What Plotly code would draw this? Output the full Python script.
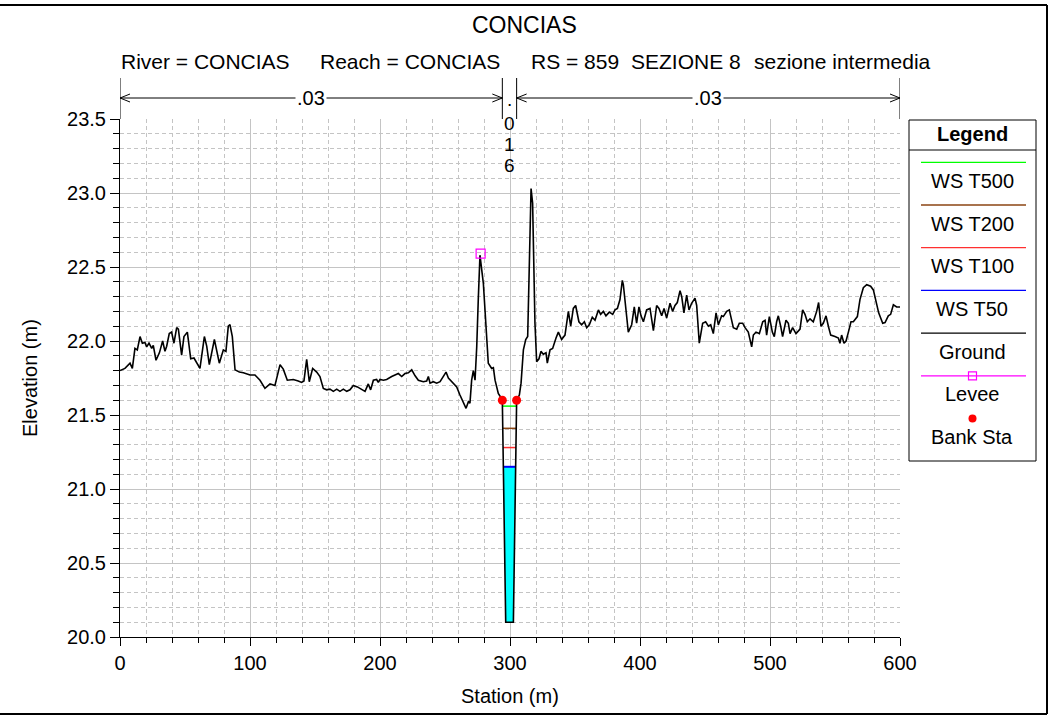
import numpy as np
import plotly.graph_objects as go

# ---------------- data ----------------
station = [0, 3.8, 7.7, 9.5, 11.5, 13.3, 15.4, 17.2, 19.2, 20.5, 22.3, 24.4, 25.6, 27.7, 30.3,
           32.8, 34.6, 35.9, 37.9, 39.7, 41.5, 43.6, 44.9, 47.4, 49.2, 51.8, 54.4, 56.9, 61.5,
           64.9, 66.7, 68.7, 72.6, 76.4, 79.5, 81.5, 83.3, 84.6, 86.4, 88.5, 91.8, 94.9, 100,
           103.8, 107.7, 111.5, 115.4, 119.2, 123.1, 125.6, 128.7, 133.3, 137.1, 139.7, 141.5,
           143.6, 145.6, 148.2, 151.3, 153.8, 156.4, 159, 161.5, 164.1, 166.7, 169.2, 171.8,
           174.4, 176.9, 179.5, 182.6, 185.9, 188.5, 191, 192.8, 194.9, 197.4, 198.7, 200,
           202.6, 205.1, 209, 211.5, 214.1, 216.7, 219.2, 221.8, 224.4, 227, 229.5, 233.3,
           235.9, 237.2, 238.5, 241, 243.6, 246.2, 248.7, 250.8, 252.6, 255.1, 259, 261.5,
           264.1, 266.2, 268, 269.2, 270.5, 271.8, 273.1, 274.4, 275.6, 276.9, 279.5, 281.5,
           283.3, 285.9, 287.2, 288.5, 291, 293.6, 294.1, 296.7, 302.6, 305.1, 307.2, 308.5,
           310.3, 312.1, 313.6, 316.2, 317.4, 319.2, 320.5, 322.3, 323.8, 325.6, 327.7, 328.7,
           330.8, 332.8, 334.6, 335.4, 337.2, 339.7, 342.3, 344.9, 346.7, 348.7, 350.5, 353,
           355.1, 357.2, 359, 361, 363.3, 365.4, 368, 369.7, 371.8, 373.8, 376.4, 379, 380.8,
           382.6, 384.6, 386.4, 387.2, 389.2, 391, 393.6, 395.6, 397.4, 399.2, 400.8, 402.6,
           405.1, 407.7, 410.3, 412.8, 414.6, 416.7, 418.5, 420.5, 423.1, 425.1, 426.9, 428.7,
           430.8, 432.1, 433.8, 435.9, 437.7, 439.7, 442.3, 443.6, 445.6, 448.2, 450.5, 452.6,
           454.4, 456.4, 458.5, 460.3, 462.8, 464.1, 466.7, 468.7, 471.8, 474.4, 476.4, 479,
           480.8, 483.3, 485.9, 487.2, 489.2, 491.8, 494.4, 496.2, 497.4, 499.5, 501.8, 503.3,
           505.1, 506.4, 508.2, 509.7, 512.3, 514.1, 515.4, 517.4, 520, 523.1, 525.1, 526.9,
           528.7, 530.8, 533.3, 535.9, 537.4, 539.2, 541, 543.1, 544.9, 546.7, 550, 552.6,
           553.8, 555.1, 556.9, 558.5, 560.3, 562.3, 564.1, 567.2, 569.2, 571.8, 574.4, 577.4,
           579.5, 581.6, 583.6, 586.7, 588.5, 591, 592.8, 594.9, 596.2, 597.4, 600]
elevation = [21.80, 21.815, 21.85, 21.815, 21.95, 21.94, 22.03, 21.985, 21.99, 21.96, 21.985,
             21.95, 21.97, 21.87, 21.92, 22.0, 21.93, 21.965, 22.05, 22.06, 21.985, 22.09, 22.08,
             21.905, 22.03, 22.06, 21.88, 21.885, 21.815, 22.03, 21.965, 21.84, 22.01, 21.85,
             21.94, 21.93, 22.10, 22.11, 22.03, 21.805, 21.79, 21.785, 21.77, 21.77, 21.735,
             21.68, 21.71, 21.70, 21.84, 21.81, 21.735, 21.74, 21.73, 21.72, 21.73, 21.876,
             21.725, 21.815, 21.79, 21.76, 21.68, 21.67, 21.675, 21.66, 21.675, 21.66, 21.675,
             21.66, 21.67, 21.70, 21.69, 21.675, 21.66, 21.71, 21.67, 21.735, 21.74, 21.72,
             21.74, 21.735, 21.74, 21.76, 21.77, 21.78, 21.76, 21.78, 21.785, 21.805, 21.765,
             21.735, 21.725, 21.73, 21.76, 21.715, 21.725, 21.715, 21.725, 21.76, 21.79, 21.75,
             21.725, 21.69, 21.635, 21.58, 21.545, 21.59, 21.58, 21.735, 21.80, 21.735, 21.96,
             22.28, 22.58, 22.39, 22.12, 21.85, 21.815, 21.82, 21.735, 21.645, 21.61, 21.60,
             20.10, 20.10, 21.60, 21.635, 21.715, 21.94, 22.01, 22.03, 23.03, 22.93, 22.12,
             21.86, 21.88, 21.93, 21.91, 21.92, 21.85, 21.94, 21.95, 22.01, 22.02, 22.06, 22.01,
             22.04, 22.20, 22.10, 22.22, 22.24, 22.13, 22.11, 22.13, 22.09, 22.11, 22.16, 22.14,
             22.21, 22.18, 22.20, 22.17, 22.195, 22.18, 22.21, 22.22, 22.28, 22.41, 22.38, 22.19,
             22.06, 22.11, 22.23, 22.12, 22.23, 22.17, 22.13, 22.21, 22.22, 22.07, 22.24, 22.22,
             22.17, 22.22, 22.155, 22.255, 22.20, 22.24, 22.26, 22.34, 22.30, 22.19, 22.31,
             22.21, 22.255, 22.29, 22.24, 21.985, 22.12, 22.13, 22.10, 22.11, 22.05, 22.19,
             22.11, 22.17, 22.165, 22.20, 22.21, 22.09, 22.08, 22.12, 22.12, 22.09, 22.06, 21.96,
             22.04, 22.06, 22.05, 22.13, 22.14, 22.04, 22.165, 22.06, 22.03, 22.13, 22.17, 22.10,
             22.03, 22.14, 22.12, 22.05, 22.09, 22.05, 22.08, 22.21, 22.18, 22.13, 22.15, 22.13,
             22.20, 22.26, 22.10, 22.12, 22.17, 22.10, 22.04, 22.03, 22.02, 21.985, 22.04,
             21.985, 22.0, 22.06, 22.13, 22.13, 22.165, 22.28, 22.36, 22.38, 22.37, 22.345,
             22.27, 22.19, 22.12, 22.125, 22.17, 22.18, 22.245, 22.235, 22.23, 22.23]

levee_sta = [277.4]
levee_elev = [22.59]
bank_sta = [294.1, 305.1]
bank_elev = [21.60, 21.60]

ws_names = ["WS T500", "WS T200", "WS T100", "WS T50"]
ws_elev = [21.56, 21.41, 21.28, 21.15]
ws_colors = ["#00ff00", "#8b4513", "#ff3030", "#0000ff"]

n_values = [".03", ".016", ".03"]

x_ticks = [0, 100, 200, 300, 400, 500, 600]
y_ticks = [20.0, 20.5, 21.0, 21.5, 22.0, 22.5, 23.0, 23.5]

title = "CONCIAS"
subtitle_parts = ["River = CONCIAS", "Reach = CONCIAS", "RS = 859", "SEZIONE 8", "sezione intermedia"]

# ---------------- layout geometry ----------------
FW, FH = 1049, 716
ML, MR, MT, MB = 120, 149, 119, 79
PW, PH = FW - ML - MR, FH - MT - MB
X0, X1 = 0, 600
Y0, Y1 = 20.0, 23.5
FONT = "Liberation Sans, Arial, sans-serif"


def pxx(px):
    return (px - ML) / PW


def pxy(py):
    return 1 - (py - MT) / PH


def m_per_px():
    return (X1 - X0) / PW


s = np.array(station)
e = np.array(elevation)

fig = go.Figure()

chan = (s >= bank_sta[0]) & (s <= bank_sta[1])
cs, ce = s[chan], e[chan]


def crossings(level):
    pts = []
    for i in range(len(cs) - 1):
        if (ce[i] - level) * (ce[i + 1] - level) < 0:
            t = (level - ce[i]) / (ce[i + 1] - ce[i])
            pts.append(cs[i] + t * (cs[i + 1] - cs[i]))
    return pts[0], pts[-1]


low = min(ws_elev)
xl, xr = crossings(low)
below = ce < low
fx = [xl] + list(cs[below]) + [xr, xl]
fy = [low] + list(ce[below]) + [low, low]
fig.add_trace(go.Scatter(x=fx, y=fy, mode="lines", fill="toself", fillcolor="#00ffff",
                         line=dict(width=0), hoverinfo="skip"))

for name, lvl, col in zip(ws_names, ws_elev, ws_colors):
    a, b = crossings(lvl)
    fig.add_trace(go.Scatter(x=[a, b], y=[lvl, lvl], mode="lines", name=name,
                             line=dict(color=col, width=2 if lvl == low else 1.5)))

fig.add_trace(go.Scatter(x=station, y=elevation, mode="lines", name="Ground",
                         line=dict(color="black", width=1.6)))
fig.add_trace(go.Scatter(x=levee_sta, y=levee_elev, mode="markers", name="Levee",
                         marker=dict(symbol="square-open", size=9, color="#ff00ff",
                                     line=dict(width=1.2, color="#ff00ff"))))
fig.add_trace(go.Scatter(x=bank_sta, y=bank_elev, mode="markers", name="Bank Sta",
                         marker=dict(symbol="circle", size=9, color="#ff0000")))

shapes = []
annotations = []

# ---------------- Manning's n bar on top ----------------
y_arrow = pxy(98)
y_vtop = pxy(78)
dxc = 10 * m_per_px()
dyc = 4 / PH
for st in [X0, bank_sta[0], bank_sta[1], X1]:
    shapes.append(dict(type="line", xref="x", yref="paper", x0=st, x1=st, y0=1, y1=y_vtop,
                       line=dict(color="black", width=1)))
segs = [(X0, bank_sta[0]), (bank_sta[0], bank_sta[1]), (bank_sta[1], X1)]
for (a, b), nv in zip(segs, n_values):
    mid = (a + b) / 2
    if b - a > 50:
        shapes.append(dict(type="line", xref="x", yref="paper", x0=a, x1=b, y0=y_arrow, y1=y_arrow,
                           line=dict(color="black", width=1)))
        shapes.append(dict(type="path", xref="x", yref="paper",
                           path=f"M {a+dxc},{y_arrow+dyc} L {a},{y_arrow} L {a+dxc},{y_arrow-dyc}",
                           line=dict(color="black", width=1)))
        shapes.append(dict(type="path", xref="x", yref="paper",
                           path=f"M {b-dxc},{y_arrow+dyc} L {b},{y_arrow} L {b-dxc},{y_arrow-dyc}",
                           line=dict(color="black", width=1)))
        annotations.append(dict(x=mid, y=y_arrow, xref="x", yref="paper", text=nv, showarrow=False,
                                bgcolor="white", borderpad=1, font=dict(size=20, family=FONT, color="black"),
                                xanchor="center", yanchor="middle"))
    else:
        for i, ch in enumerate(nv):
            py = 102.5 + 21 * i - (3.5 if ch == "." else 0)
            annotations.append(dict(x=mid, y=pxy(py), xref="x", yref="paper", text=ch, showarrow=False,
                                    font=dict(size=19, family=FONT, color="black"),
                                    xanchor="center", yanchor="middle"))

# ---------------- titles ----------------
annotations.append(dict(x=pxx(524), y=pxy(25), xref="paper", yref="paper", text=title, showarrow=False,
                        font=dict(size=23, family=FONT, color="black"), xanchor="center", yanchor="middle"))
sub_left = [119, 318, 529, 629, 752]
for t, lx in zip(subtitle_parts, sub_left):
    annotations.append(dict(x=pxx(lx), y=pxy(61), xref="paper", yref="paper", text=t, showarrow=False,
                            font=dict(size=21, family=FONT, color="black"), xanchor="left", yanchor="middle"))

annotations.append(dict(x=pxx(510), y=pxy(696), xref="paper", yref="paper", text="Station (m)",
                        showarrow=False, font=dict(size=20, family=FONT, color="black"),
                        xanchor="center", yanchor="middle"))
annotations.append(dict(x=pxx(30), y=pxy(378), xref="paper", yref="paper", text="Elevation (m)",
                        showarrow=False, textangle=-90, font=dict(size=20, family=FONT, color="black"),
                        xanchor="center", yanchor="middle"))

# ---------------- legend box ----------------
LX0, LX1, LY0, LY1 = 909, 1036, 120, 461
shapes.append(dict(type="rect", xref="paper", yref="paper", x0=pxx(LX0), x1=pxx(LX1), y0=pxy(LY1), y1=pxy(LY0),
                   line=dict(color="black", width=1), fillcolor="white", layer="above"))
shapes.append(dict(type="line", xref="paper", yref="paper", x0=pxx(LX0), x1=pxx(LX1), y0=pxy(150), y1=pxy(150),
                   line=dict(color="black", width=1)))
lcx = (LX0 + LX1) / 2
annotations.append(dict(x=pxx(lcx), y=pxy(134), xref="paper", yref="paper", text="<b>Legend</b>", showarrow=False,
                        font=dict(size=20, family=FONT, color="black"), xanchor="center", yanchor="middle"))
entries = [(n, "line", c) for n, c in zip(ws_names, ws_colors)] + \
          [("Ground", "line", "black"), ("Levee", "levee", "#ff00ff"), ("Bank Sta", "dot", "#ff0000")]
for i, (name, kind, col) in enumerate(entries):
    ly = 162.3 + 42.7 * i
    if kind in ("line", "levee"):
        shapes.append(dict(type="line", xref="paper", yref="paper", x0=pxx(921), x1=pxx(1026),
                           y0=pxy(ly), y1=pxy(ly), line=dict(color=col, width=1.3)))
    if kind == "levee":
        shapes.append(dict(type="rect", xref="paper", yref="paper", xsizemode="pixel", ysizemode="pixel",
                           xanchor=pxx(lcx), yanchor=pxy(ly), x0=-4, x1=4, y0=-4, y1=4,
                           line=dict(color=col, width=1.2)))
    if kind == "dot":
        shapes.append(dict(type="circle", xref="paper", yref="paper", xsizemode="pixel", ysizemode="pixel",
                           xanchor=pxx(lcx), yanchor=pxy(ly), x0=-4, x1=4, y0=-4, y1=4,
                           line=dict(color=col, width=0), fillcolor=col))
    annotations.append(dict(x=pxx(lcx), y=pxy(ly + 18.5), xref="paper", yref="paper", text=name,
                            showarrow=False, font=dict(size=20, family=FONT, color="black"),
                            xanchor="center", yanchor="middle"))

# ---------------- outer frame ----------------
for (xa, ya, xb, yb) in [(0, 5, 1047, 5), (1047, 5, 1047, 714), (0, 714, 1047, 714)]:
    shapes.append(dict(type="line", xref="paper", yref="paper", x0=pxx(xa), x1=pxx(xb), y0=pxy(ya), y1=pxy(yb),
                       line=dict(color="black", width=2)))

GRID = "#c4c4c4"
fig.update_layout(
    width=FW, height=FH, margin=dict(l=ML, r=MR, t=MT, b=MB, pad=0),
    paper_bgcolor="white", plot_bgcolor="white", showlegend=False,
    font=dict(family=FONT, size=20, color="black"),
    shapes=shapes, annotations=annotations,
    xaxis=dict(range=[X0, X1], tickvals=x_ticks, ticktext=[str(v) for v in x_ticks],
               showgrid=True, gridcolor=GRID, gridwidth=1, zeroline=False,
               showline=True, linecolor="black", linewidth=1,
               ticks="outside", ticklen=8, tickcolor="black", tickwidth=1,
               tickfont=dict(size=20, family=FONT, color="black"),
               minor=dict(dtick=20, tick0=0, ticks="outside", ticklen=5, tickcolor="black",
                          showgrid=True, gridcolor=GRID, griddash="4px,3px", gridwidth=1)),
    yaxis=dict(range=[Y0, Y1], tickvals=y_ticks, ticktext=[f"{v:.1f}" for v in y_ticks],
               showgrid=True, gridcolor=GRID, gridwidth=1, zeroline=False,
               showline=True, linecolor="black", linewidth=1,
               ticks="outside", ticklen=9, tickcolor="black", tickwidth=1,
               tickfont=dict(size=20, family=FONT, color="black"),
               minor=dict(dtick=0.1, tick0=20, ticks="outside", ticklen=6, tickcolor="black",
                          showgrid=True, gridcolor=GRID, griddash="4px,3px", gridwidth=1)),
)

fig.write_html("out.html", config={"displayModeBar": False},
               post_script="document.body.style.margin='0';document.body.style.overflow='hidden';")
